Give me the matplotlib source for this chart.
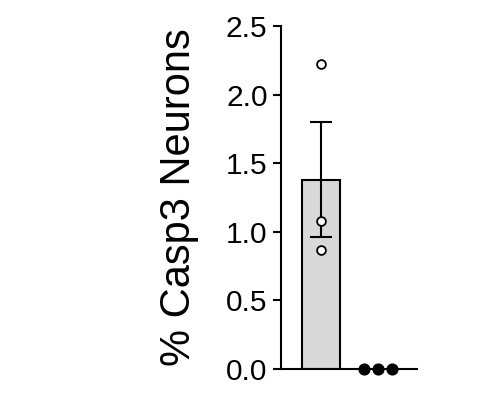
import numpy as np
import matplotlib.pyplot as plt

plt.rcParams['font.family'] = ['Liberation Sans', 'DejaVu Sans']

# data
groups = ['A', 'B']
means = [1.38, 0.0]
sems = [0.42, 0.0]
points = [[2.22, 1.08, 0.87], [0.0, 0.0, 0.0]]
bar_colors = ['#d9d9d9', '#d9d9d9']
yticks = [0.0, 0.5, 1.0, 1.5, 2.0, 2.5]


def spread(vals, step=0.245):
    # push identical values sideways so they don't overlap
    vals = np.asarray(vals)
    offs = np.zeros(len(vals))
    for v in np.unique(vals):
        idx = np.where(vals == v)[0]
        if len(idx) > 1:
            offs[idx] = (np.arange(len(idx)) - (len(idx) - 1) / 2) * step
    return offs


fig = plt.figure(figsize=(4.97, 4.08), dpi=100)
ax = fig.add_axes([0.5648, 0.0956, 0.2736, 0.8407])

x = np.arange(len(groups))
ax.bar(x[0], means[0], 0.67, color=bar_colors[0], edgecolor='black', linewidth=1.5, zorder=1)
ax.errorbar(x[0], means[0], yerr=sems[0], fmt='none', ecolor='black',
            elinewidth=1.5, capsize=8, capthick=1.5, zorder=3)

ax.scatter(x[0] + spread(points[0]), points[0], s=40, facecolor='white',
           edgecolor='black', linewidth=1.3, zorder=4)
ax.scatter(x[1] + spread(points[1]), points[1], s=60, color='black',
           zorder=4, clip_on=False)

ax.set_xlim(-0.707, 1.68)
ax.set_ylim(0, 2.5)
ax.set_yticks(yticks)
ax.set_yticklabels(['%.1f' % t for t in yticks])
ax.set_xticks([])

for s in ['top', 'right']:
    ax.spines[s].set_visible(False)
ax.spines['left'].set_linewidth(1.5)
ax.spines['bottom'].set_linewidth(1.5)
ax.tick_params(axis='y', length=6, width=1.5, labelsize=21.5, pad=3.5)

ax.set_ylabel('% Casp3 Neurons', fontsize=30, labelpad=19)

fig.savefig('out.png', dpi=100)
